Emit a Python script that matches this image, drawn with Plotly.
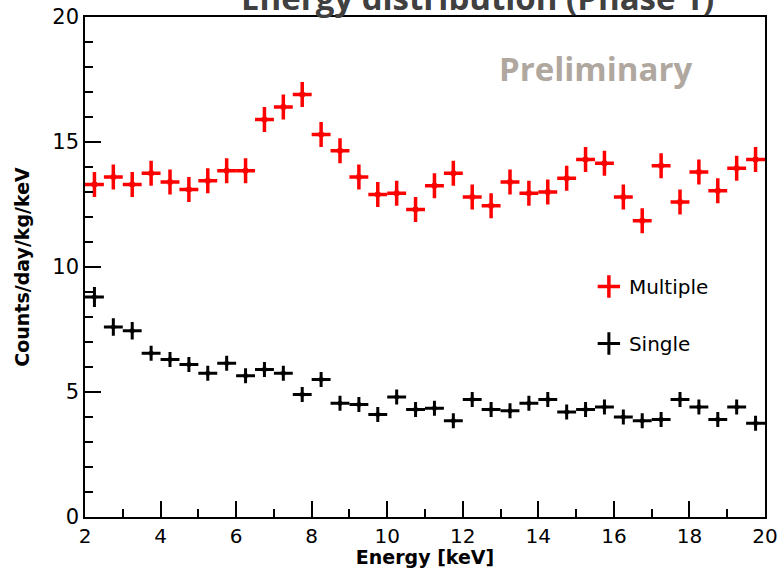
import plotly.graph_objects as go

energy = [2.25 + 0.5 * i for i in range(36)]
bin_half = [0.25] * 36

multiple = [13.3, 13.6, 13.3, 13.75, 13.4, 13.1, 13.45, 13.85, 13.85, 15.9,
            16.4, 16.9, 15.3, 14.65, 13.6, 12.9, 12.95, 12.3, 13.25, 13.75,
            12.8, 12.45, 13.4, 12.95, 13.0, 13.55, 14.3, 14.15, 12.8, 11.85,
            14.05, 12.6, 13.8, 13.05, 13.95, 14.3]
multiple_err = [0.5] * 36

single = [8.8, 7.6, 7.45, 6.55, 6.3, 6.1, 5.75, 6.15, 5.65, 5.9,
          5.75, 4.9, 5.5, 4.55, 4.5, 4.1, 4.8, 4.3, 4.35, 3.85,
          4.7, 4.3, 4.25, 4.55, 4.7, 4.2, 4.3, 4.4, 4.0, 3.85,
          3.9, 4.7, 4.4, 3.9, 4.4, 3.75]
single_err = [0.4, 0.35, 0.35, 0.3, 0.3, 0.3, 0.3, 0.3, 0.3, 0.3,
              0.3, 0.3, 0.3, 0.3, 0.3, 0.3, 0.3, 0.3, 0.3, 0.3,
              0.3, 0.3, 0.3, 0.3, 0.3, 0.3, 0.3, 0.3, 0.3, 0.3,
              0.3, 0.3, 0.3, 0.3, 0.3, 0.3]

x_ticks = [2, 4, 6, 8, 10, 12, 14, 16, 18, 20]
y_ticks = [0, 5, 10, 15, 20]

FONT = "DejaVu Sans"

fig = go.Figure()

fig.add_trace(go.Scatter(
    x=energy, y=multiple, mode="markers",
    marker=dict(symbol="square", size=5, color="#ff0000"),
    error_y=dict(type="data", array=multiple_err, color="#ff0000", thickness=3.5, width=0),
    error_x=dict(type="data", array=bin_half, color="#ff0000", thickness=3.5, width=0),
    showlegend=False, name="Multiple"))

fig.add_trace(go.Scatter(
    x=energy, y=single, mode="markers",
    marker=dict(symbol="square", size=4, color="#000000"),
    error_y=dict(type="data", array=single_err, color="#000000", thickness=3, width=0),
    error_x=dict(type="data", array=bin_half, color="#000000", thickness=3, width=0),
    showlegend=False, name="Single"))

# legend-only entries
fig.add_trace(go.Scatter(
    x=[None], y=[None], mode="markers", name="Multiple", legendgroup="m",
    marker=dict(symbol="cross-thin", size=26, line=dict(color="#ff0000", width=3.5))))
fig.add_trace(go.Scatter(
    x=[None], y=[None], mode="markers", name="Single", legendgroup="s",
    marker=dict(symbol="cross-thin", size=22, line=dict(color="#000000", width=3))))

fig.update_layout(
    width=779, height=568,
    margin=dict(l=85, r=14, t=17, b=51),
    paper_bgcolor="white", plot_bgcolor="white",
    font=dict(family=FONT, color="black"),
    legend=dict(x=0.741, y=0.5, xanchor="left", yanchor="top",
                bgcolor="rgba(0,0,0,0)", font=dict(size=20, family=FONT),
                tracegroupgap=28, itemwidth=30),
    annotations=[
        dict(text="<b>Energy distribution (Phase 1)</b>", x=0.577, y=1.0,
             xref="paper", yref="paper", xanchor="center", yanchor="bottom",
             yshift=-5, showarrow=False,
             font=dict(size=33, family="Open Sans", color="#404040")),
        dict(text="<b>Preliminary</b>", x=0.75, y=0.897,
             xref="paper", yref="paper", xanchor="center", yanchor="middle",
             showarrow=False,
             font=dict(size=33, family="Open Sans", color="#b0a89f")),
    ],
)

fig.update_xaxes(
    range=[2, 20], tickvals=x_ticks, ticks="inside", ticklen=16, tickwidth=1.5,
    tickcolor="black", showline=True, linecolor="black", linewidth=1.5, mirror=True,
    showgrid=False, zeroline=False, automargin=False,
    minor=dict(dtick=1, ticks="inside", ticklen=8, tickwidth=1.5, tickcolor="black"),
    tickfont=dict(size=20, family=FONT),
    title=dict(text="<b>Energy [keV]</b>", font=dict(size=19, family=FONT), standoff=3),
)
fig.update_yaxes(
    range=[0, 20], tickvals=y_ticks, ticks="inside", ticklen=16, tickwidth=1.5,
    tickcolor="black", showline=True, linecolor="black", linewidth=1.5, mirror=True,
    showgrid=False, zeroline=False, automargin=False,
    minor=dict(dtick=1, ticks="inside", ticklen=8, tickwidth=1.5, tickcolor="black"),
    tickfont=dict(size=21, family=FONT),
    title=dict(text="<b>Counts/day/kg/keV</b>", font=dict(size=19, family=FONT), standoff=18),
)

fig.write_html("out.html")
